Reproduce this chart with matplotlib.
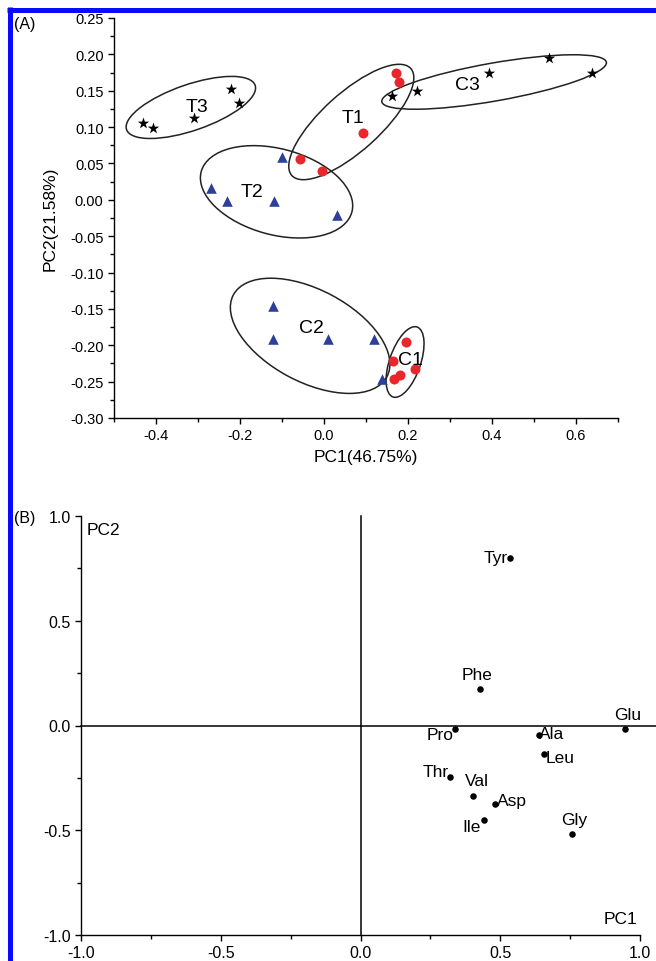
import matplotlib
matplotlib.use("Agg")
import matplotlib.pyplot as plt
from matplotlib.patches import Ellipse
from matplotlib.lines import Line2D
from matplotlib.ticker import MultipleLocator, FormatStrFormatter
import matplotlib.transforms as mtransforms

plt.rcParams['font.family'] = ['Liberation Sans', 'DejaVu Sans']
plt.rcParams['axes.unicode_minus'] = False

# ---------------- Panel A data (scores) ----------------
t3_x = [-0.432, -0.406, -0.309, -0.221, -0.202]
t3_y = [0.106, 0.099, 0.113, 0.153, 0.133]
c3_x = [0.163, 0.221, 0.393, 0.536, 0.639]
c3_y = [0.143, 0.149, 0.174, 0.195, 0.174]
t1_x = [0.171, 0.179, 0.094, -0.057, -0.005]
t1_y = [0.175, 0.162, 0.092, 0.056, 0.040]
c1_x = [0.195, 0.165, 0.217, 0.181, 0.167]
c1_y = [-0.196, -0.222, -0.232, -0.241, -0.246]
t2_x = [-0.099, -0.270, -0.232, -0.119, 0.030]
t2_y = [0.059, 0.016, -0.002, -0.001, -0.021]
c2_x = [-0.121, -0.121, 0.010, 0.119, 0.137]
c2_y = [-0.146, -0.191, -0.191, -0.191, -0.246]

group_names = ['T3', 'T1', 'C3', 'T2', 'C2', 'C1']
ell_cx = [-0.317, 0.065, 0.405, -0.113, -0.033, 0.193]
ell_cy = [0.127, 0.107, 0.162, 0.011, -0.187, -0.223]
ell_w = [136, 160, 228, 156, 174, 74]     # reference pixels
ell_h = [46, 58, 38, 86, 92, 31]
ell_ang = [19, 42, 10, -15, -28, 71]
lab_x = [-0.303, 0.068, 0.342, -0.172, -0.029, 0.205]
lab_y = [0.128, 0.113, 0.159, 0.011, -0.175, -0.219]

# ---------------- Panel B data (loadings) ----------------
aa_names = ['Tyr', 'Phe', 'Glu', 'Pro', 'Ala', 'Leu', 'Thr', 'Val', 'Asp', 'Ile', 'Gly']
pc1_load = [0.536, 0.428, 0.945, 0.338, 0.638, 0.657, 0.321, 0.402, 0.483, 0.441, 0.758]
pc2_load = [0.800, 0.175, -0.016, -0.016, -0.043, -0.135, -0.246, -0.338, -0.373, -0.449, -0.519]
aa_off = {'Tyr': (-2, 0, 'right', 'center'), 'Phe': (-2, 5, 'center', 'bottom'),
          'Glu': (2, 5, 'center', 'bottom'), 'Pro': (-1, -4, 'right', 'center'),
          'Ala': (0, 1, 'left', 'center'), 'Leu': (1, -3, 'left', 'center'),
          'Thr': (-1, 4, 'right', 'center'), 'Val': (3, 6, 'center', 'bottom'),
          'Asp': (1, 2, 'left', 'center'), 'Ile': (-2, -5, 'right', 'center'),
          'Gly': (1, 5, 'center', 'bottom')}

W, H = 656, 962
fig = plt.figure(figsize=(W / 100, H / 100), dpi=100)

RED = '#e8262b'
BLUE = '#2c3f99'

# ---------- Panel A ----------
axA_l, axA_r, axA_t, axA_b = 114, 618, 19, 419
axA = fig.add_axes([axA_l / W, 1 - axA_b / H, (axA_r - axA_l) / W, (axA_b - axA_t) / H])
xminA, xmaxA, yminA, ymaxA = -0.5, 0.7, -0.30, 0.25
axA.set_xlim(xminA, xmaxA)
axA.set_ylim(yminA, ymaxA)
sx = (axA_r - axA_l) / (xmaxA - xminA)
sy = (axA_b - axA_t) / (ymaxA - yminA)

star_kw = dict(marker='*', s=75, color='black', linewidths=0, zorder=3)
circ_kw = dict(marker='o', s=52, color=RED, linewidths=0, zorder=3)
tri_kw = dict(marker='^', s=58, color=BLUE, linewidths=0, zorder=3)
axA.scatter(t3_x, t3_y, **star_kw)
axA.scatter(c3_x, c3_y, **star_kw)
axA.scatter(t1_x, t1_y, **circ_kw)
axA.scatter(c1_x, c1_y, **circ_kw)
axA.scatter(t2_x, t2_y, **tri_kw)
axA.scatter(c2_x, c2_y, **tri_kw)

for name, cx, cy, w, h, a, lx, ly in zip(group_names, ell_cx, ell_cy, ell_w, ell_h, ell_ang, lab_x, lab_y):
    tr = mtransforms.Affine2D().scale(1 / sx, 1 / sy).translate(cx, cy) + axA.transData
    e = Ellipse((0, 0), w, h, angle=a, transform=tr, fill=False, edgecolor='#222222', lw=1.1, zorder=2)
    axA.add_patch(e)
    axA.text(lx, ly, name, fontsize=14, ha='center', va='center', zorder=4)

for sp in ['top', 'right']:
    axA.spines[sp].set_visible(False)
for sp in ['left', 'bottom']:
    axA.spines[sp].set_linewidth(1.0)
axA.xaxis.set_major_locator(MultipleLocator(0.2))
axA.xaxis.set_minor_locator(MultipleLocator(0.1))
axA.yaxis.set_major_locator(MultipleLocator(0.05))
axA.yaxis.set_minor_locator(MultipleLocator(0.025))
axA.xaxis.set_major_formatter(FormatStrFormatter('%.1f'))
axA.yaxis.set_major_formatter(FormatStrFormatter('%.2f'))
axA.tick_params(which='major', direction='out', length=4.5, width=1.0, labelsize=10.5, pad=3)
axA.tick_params(which='minor', direction='out', length=3, width=1.0)
axA.set_xlabel('PC1(46.75%)', fontsize=12.5, labelpad=5)
axA.set_ylabel('PC2(21.58%)', fontsize=12.5, labelpad=9)

# ---------- Panel B ----------
axB_l, axB_r, axB_t, axB_b = 81, 640, 517, 936
axB = fig.add_axes([axB_l / W, 1 - axB_b / H, (axB_r - axB_l) / W, (axB_b - axB_t) / H])
axB.set_xlim(-1.0, 1.0)
axB.set_ylim(-1.0, 1.0)
axB.scatter(pc1_load, pc2_load, s=22, color='black', linewidths=0, zorder=3)
for n, x, y in zip(aa_names, pc1_load, pc2_load):
    dx, dy, ha, va = aa_off[n]
    axB.annotate(n, (x, y), xytext=(dx, dy), textcoords='offset points',
                 ha=ha, va=va, fontsize=12.5, zorder=4)
axB.plot([-1.0, 1.06], [0, 0], color='black', lw=1.1, clip_on=False, zorder=1)
axB.plot([0, 0], [-1.0, 1.0], color='black', lw=1.1, clip_on=False, zorder=1)
axB.text(-0.98, 0.97, 'PC2', fontsize=12.5, ha='left', va='top')
axB.text(0.99, -0.92, 'PC1', fontsize=12.5, ha='right', va='center')
for sp in ['top', 'right']:
    axB.spines[sp].set_visible(False)
for sp in ['left', 'bottom']:
    axB.spines[sp].set_linewidth(1.0)
axB.xaxis.set_major_locator(MultipleLocator(0.5))
axB.xaxis.set_minor_locator(MultipleLocator(0.25))
axB.yaxis.set_major_locator(MultipleLocator(0.5))
axB.yaxis.set_minor_locator(MultipleLocator(0.25))
axB.xaxis.set_major_formatter(FormatStrFormatter('%.1f'))
axB.yaxis.set_major_formatter(FormatStrFormatter('%.1f'))
axB.tick_params(which='major', direction='out', length=4.5, width=1.0, labelsize=11.5, pad=3)
axB.tick_params(which='minor', direction='out', length=3, width=1.0)

# panel labels
fig.text(14 / W, 1 - 25 / H, '(A)', fontsize=11.5, ha='left', va='center')
fig.text(14 / W, 1 - 519 / H, '(B)', fontsize=11.5, ha='left', va='center')

# blue frame
fig.add_artist(Line2D([9.5 / W, 9.5 / W], [0, 1 - 8 / H], transform=fig.transFigure, color='#0a0aff', lw=3.6, solid_capstyle='butt'))
fig.add_artist(Line2D([7 / W, 1], [1 - 10.5 / H, 1 - 10.5 / H], transform=fig.transFigure, color='#0a0aff', lw=3.6, solid_capstyle='butt'))

fig.savefig('out.png', dpi=100)
